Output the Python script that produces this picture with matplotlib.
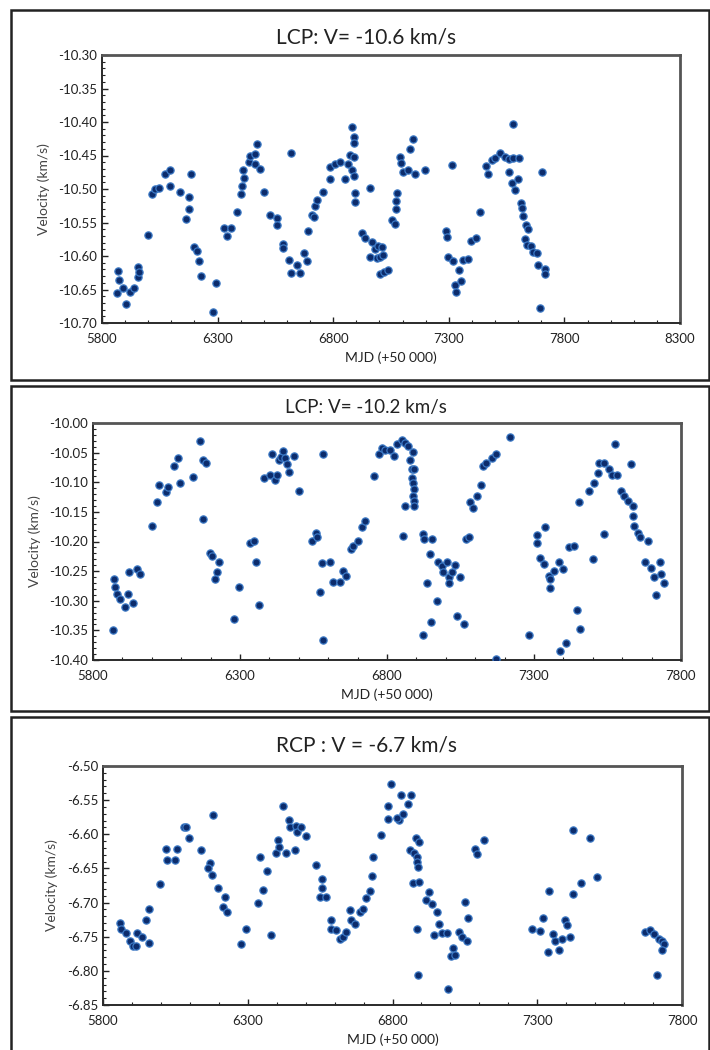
import matplotlib
matplotlib.use("Agg")
import matplotlib.pyplot as plt
from matplotlib.patches import Rectangle
from matplotlib.ticker import MultipleLocator, FixedLocator, FormatStrFormatter

plt.rcParams['font.family'] = ['Lato', 'DejaVu Sans']
plt.rcParams['axes.unicode_minus'] = False

# LCP, V = -10.6 km/s
mjd_1 = [5865, 5868, 5875, 5891, 5905, 5922, 5937, 5956, 5954, 5961,
         5997, 6016, 6031, 6045, 6074, 6093, 6095, 6139, 6178, 6186, 6178, 6163, 6196, 6211,
         6218, 6228, 6278, 6294,
         6329, 6340, 6358, 6384, 6402, 6405, 6415, 6408, 6434, 6439, 6470, 6463, 6463, 6484,
         6502, 6617,
         6528, 6559, 6559, 6582, 6585, 6607, 6617, 6643, 6657, 6672, 6686, 6693, 6708, 6718,
         6722, 6732, 6758, 6784, 6787, 6809, 6830, 6852, 6862, 6874, 6881, 6888, 6888, 6888,
         6881, 6891, 6895, 6895,
         6960, 6924, 6938, 6966, 6981, 6995, 7010, 6960, 6989, 7002, 7016, 7003, 7020, 7038,
         7055, 7066, 7070, 7070, 7078, 7088, 7095, 7102, 7124, 7153, 7131, 7146, 7196,
         7316, 7290, 7294, 7297, 7319, 7343, 7362, 7383, 7326, 7333, 7352, 7398, 7416, 7434,
         7463, 7470, 7485, 7499, 7521, 7543, 7560, 7579, 7603, 7578, 7560, 7572, 7587, 7601,
         7612, 7615, 7622, 7632, 7644, 7630, 7637, 7656, 7666, 7681, 7685, 7714, 7717, 7695,
         7705]
vel_1 = [-10.655, -10.622, -10.636, -10.648, -10.671, -10.653, -10.648, -10.632, -10.617, -10.624,
         -10.568, -10.507, -10.500, -10.499, -10.477, -10.472, -10.495, -10.505, -10.512, -10.477,
         -10.530, -10.545, -10.587, -10.593, -10.607, -10.630, -10.684, -10.641,
         -10.558, -10.570, -10.558, -10.535, -10.508, -10.496, -10.484, -10.472, -10.460, -10.451,
         -10.433, -10.448, -10.462, -10.470, -10.504, -10.446,
         -10.539, -10.544, -10.554, -10.582, -10.588, -10.606, -10.625, -10.613, -10.625, -10.595,
         -10.607, -10.562, -10.539, -10.542, -10.526, -10.517, -10.505, -10.485, -10.467, -10.463,
         -10.459, -10.485, -10.463, -10.449, -10.407, -10.422, -10.432, -10.452, -10.471, -10.481,
         -10.506, -10.519,
         -10.499, -10.566, -10.573, -10.579, -10.589, -10.585, -10.586, -10.601, -10.603, -10.601,
         -10.598, -10.627, -10.624, -10.621,
         -10.546, -10.552, -10.530, -10.518, -10.506, -10.452, -10.461, -10.475, -10.472, -10.478,
         -10.440, -10.426, -10.471,
         -10.464, -10.563, -10.571, -10.601, -10.607, -10.621, -10.606, -10.604, -10.644, -10.654,
         -10.637, -10.578, -10.573, -10.534,
         -10.466, -10.478, -10.457, -10.453, -10.446, -10.452, -10.455, -10.453, -10.453, -10.403,
         -10.474, -10.491, -10.501, -10.485,
         -10.521, -10.528, -10.541, -10.553, -10.560, -10.574, -10.583, -10.585, -10.594, -10.596,
         -10.614, -10.619, -10.627, -10.678, -10.475]

# LCP, V = -10.2 km/s
mjd_2 = [5870, 5874, 5882, 5891, 5908, 5920, 5923, 5936, 5950, 5959, 5868,
         5999, 6016, 6025, 6048, 6056, 6076, 6090, 6095, 6139, 6164, 6175, 6186, 6173,
         6198, 6204, 6230, 6221, 6215, 6281, 6295, 6334, 6346, 6355, 6366,
         6380, 6402, 6408, 6420, 6425, 6431, 6438, 6445, 6453, 6459, 6465, 6482, 6499,
         6581, 6572, 6578, 6584, 6607, 6616, 6641, 6652, 6661, 6546, 6560, 6563,
         6678, 6686, 6703, 6714, 6726, 6756, 6774, 6782,
         6793, 6810, 6824, 6833, 6850, 6862, 6873, 6888, 6879, 6885, 6891,
         6886, 6888, 6891, 6889, 6891, 6892, 6862, 6856,
         6922, 6926, 6952, 6922, 6947, 6935, 6949, 6969, 6975, 6987, 7004, 6990, 7010, 7021,
         7032, 7010, 7049, 7038, 7063, 7070, 7078, 7083, 7094, 7106, 7120, 7126, 7138, 7157,
         7172, 7217, 7172,
         7282, 7310, 7310, 7339, 7319, 7335, 7350, 7355, 7353, 7368, 7386, 7397, 7389, 7409,
         7420, 7435, 7446, 7457, 7454, 7500, 7488, 7505, 7517, 7522, 7539, 7537, 7556, 7564,
         7576, 7583, 7630, 7596, 7607, 7619, 7636, 7636, 7639, 7653, 7662, 7687, 7676, 7699,
         7708, 7716, 7727, 7733, 7742]
vel_2 = [-10.264, -10.277, -10.288, -10.297, -10.311, -10.288, -10.251, -10.304, -10.247, -10.255,
         -10.350,
         -10.174, -10.134, -10.104, -10.116, -10.108, -10.073, -10.059, -10.102, -10.091, -10.031,
         -10.062, -10.068, -10.162,
         -10.220, -10.225, -10.234, -10.252, -10.263, -10.330, -10.277, -10.202, -10.200, -10.235,
         -10.308,
         -10.092, -10.087, -10.052, -10.096, -10.087, -10.062, -10.057, -10.048, -10.059, -10.070,
         -10.083, -10.055, -10.115,
         -10.053, -10.286, -10.236, -10.366, -10.234, -10.269, -10.269, -10.249, -10.258, -10.199,
         -10.185, -10.193,
         -10.213, -10.207, -10.199, -10.176, -10.165, -10.090, -10.053, -10.042,
         -10.045, -10.045, -10.056, -10.036, -10.028, -10.034, -10.038, -10.049, -10.062, -10.078,
         -10.078,
         -10.092, -10.102, -10.112, -10.123, -10.131, -10.140, -10.140, -10.190,
         -10.188, -10.195, -10.196, -10.358, -10.221, -10.270, -10.336, -10.301, -10.235, -10.241,
         -10.234, -10.252, -10.260, -10.252, -10.240, -10.270, -10.260, -10.325, -10.339, -10.195,
         -10.193, -10.134, -10.143, -10.123, -10.104, -10.073, -10.068, -10.059,
         -10.053, -10.024, -10.399,
         -10.358, -10.189, -10.202, -10.175, -10.228, -10.238, -10.258, -10.264, -10.279, -10.250,
         -10.235, -10.247, -10.385, -10.372,
         -10.210, -10.207, -10.316, -10.348, -10.133, -10.230, -10.115, -10.102, -10.084, -10.067,
         -10.068, -10.188, -10.078, -10.087,
         -10.036, -10.087, -10.070, -10.115, -10.123, -10.131, -10.140, -10.157, -10.174, -10.186,
         -10.193, -10.200, -10.234, -10.244,
         -10.260, -10.291, -10.234, -10.255, -10.270]

# RCP, V = -6.7 km/s
mjd_3 = [5858, 5863, 5880, 5892, 5904, 5915, 5918, 5933, 5959, 5950, 5959,
         5998, 6017, 6021, 6054, 6048, 6079, 6088, 6096, 6137, 6171, 6163, 6178, 6180,
         6198, 6221, 6213, 6227, 6275, 6293,
         6336, 6344, 6353, 6365, 6380, 6399, 6405, 6408, 6422, 6431, 6443, 6447, 6466, 6462,
         6470, 6485, 6500,
         6537, 6555, 6555, 6551, 6572, 6587, 6589, 6606, 6618, 6630, 6641, 6653, 6658, 6670,
         6687, 6699, 6710, 6722, 6730, 6733, 6762, 6785, 6785, 6795,
         6824, 6817, 6835, 6831, 6855, 6863, 6881, 6893, 6861, 6874, 6883, 6885, 6888, 6871,
         6892, 6885, 6889,
         6927, 6916, 6936, 6953, 6959, 6944, 6971, 6987, 6993, 7001, 7010, 7016, 7030, 7039,
         7051, 7059, 7062, 7085, 7093, 7116,
         7281, 7310, 7319, 7339, 7336, 7354, 7362, 7374, 7385, 7397, 7402, 7414, 7423, 7425,
         7451, 7483, 7506,
         7673, 7688, 7702, 7719, 7731, 7739, 7731, 7714]
vel_3 = [-6.730, -6.739, -6.745, -6.757, -6.764, -6.764, -6.744, -6.750, -6.759, -6.726, -6.709,
         -6.673, -6.621, -6.637, -6.621, -6.637, -6.590, -6.590, -6.605, -6.623, -6.642, -6.650,
         -6.660, -6.572,
         -6.679, -6.692, -6.706, -6.714, -6.761, -6.739,
         -6.701, -6.633, -6.681, -6.654, -6.748, -6.628, -6.609, -6.619, -6.559, -6.628, -6.579,
         -6.590, -6.588, -6.623, -6.597, -6.589, -6.603,
         -6.645, -6.665, -6.679, -6.692, -6.692, -6.726, -6.738, -6.740, -6.754, -6.751, -6.743,
         -6.711, -6.726, -6.731, -6.714, -6.709, -6.694, -6.683, -6.661, -6.633, -6.601, -6.577,
         -6.559, -6.526,
         -6.579, -6.576, -6.571, -6.543, -6.555, -6.543, -6.605, -6.611, -6.623, -6.627, -6.633,
         -6.640, -6.648, -6.671, -6.670, -6.739, -6.806,
         -6.684, -6.696, -6.702, -6.714, -6.732, -6.748, -6.745, -6.745, -6.827, -6.778, -6.767,
         -6.777, -6.743, -6.750, -6.699, -6.757, -6.723, -6.622, -6.629, -6.609,
         -6.738, -6.741, -6.722, -6.683, -6.773, -6.746, -6.757, -6.769, -6.754, -6.725, -6.733,
         -6.751, -6.593, -6.687, -6.671, -6.606, -6.663,
         -6.743, -6.740, -6.746, -6.753, -6.757, -6.761, -6.770, -6.806]

titles = ["LCP: V= -10.6 km/s", "LCP: V= -10.2 km/s", "RCP : V = -6.7 km/s"]
xlims = [(5800, 8300), (5800, 7800), (5800, 7800)]
ylims = [(-10.70, -10.30), (-10.40, -10.00), (-6.85, -6.50)]

W, H = 710, 1050
fig = plt.figure(figsize=(7.1, 10.5), dpi=100)

def fx(px):
    return px / W

def fy(py):
    return 1 - py / H

# panel frames (pixels: left, top, right, bottom)
frames = [(11, 10, 709, 380), (11, 386, 709, 711), (11, 717, 709, 1060)]
for l, t, r, b in frames:
    fig.patches.append(Rectangle((fx(l), fy(b)), fx(r - l), (b - t) / H,
                                 transform=fig.transFigure, fill=False,
                                 edgecolor='#222222', linewidth=1.8))

# axes boxes (pixels: left, top, right, bottom)
boxes = [(102, 55, 680, 323), (93, 423, 681, 660), (103, 766, 682, 1005)]
title_y = [38, 408, 745]
title_size = [15, 13.5, 15]
data = [(mjd_1, vel_1), (mjd_2, vel_2), (mjd_3, vel_3)]

for i in range(3):
    l, t, r, b = boxes[i]
    ax = fig.add_axes([fx(l), fy(b), (r - l) / W, (b - t) / H])
    x, y = data[i]
    ax.plot(x, y, 'o', ms=5.2, mfc='#0c2c6c', mec='#3b78c4', mew=0.9, zorder=3)
    ax.set_xlim(*xlims[i])
    ax.set_ylim(*ylims[i])
    ax.xaxis.set_major_locator(FixedLocator(range(xlims[i][0], xlims[i][1] + 1, 500)))
    ax.xaxis.set_minor_locator(MultipleLocator(100))
    ax.yaxis.set_major_locator(MultipleLocator(0.05))
    ax.yaxis.set_minor_locator(MultipleLocator(0.01))
    ax.yaxis.set_major_formatter(FormatStrFormatter('%.2f'))
    ax.tick_params(which='both', direction='in', colors='#222222', labelsize=9.5)
    ax.tick_params(which='major', length=4, width=1)
    ax.tick_params(which='minor', length=2.5, width=0.8)
    ax.tick_params(axis='x', pad=7)
    for s in ax.spines.values():
        s.set_color('#2a2a2a')
        s.set_linewidth(1.4)
    ax.spines['top'].set_linewidth(2)
    ax.spines['right'].set_linewidth(2)
    ax.spines['top'].set_color('#555555')
    ax.spines['right'].set_color('#555555')
    ax.set_xlabel("MJD (+50 000)", fontsize=10, color='#222222', labelpad=5)
    ax.set_ylabel("Velocity (km/s)", fontsize=10, color='#444444', labelpad=6)
    fig.text(fx(366), fy(title_y[i]), titles[i], ha='center', va='center',
             fontsize=title_size[i], color='#222222')

fig.savefig("out.png", dpi=100)
